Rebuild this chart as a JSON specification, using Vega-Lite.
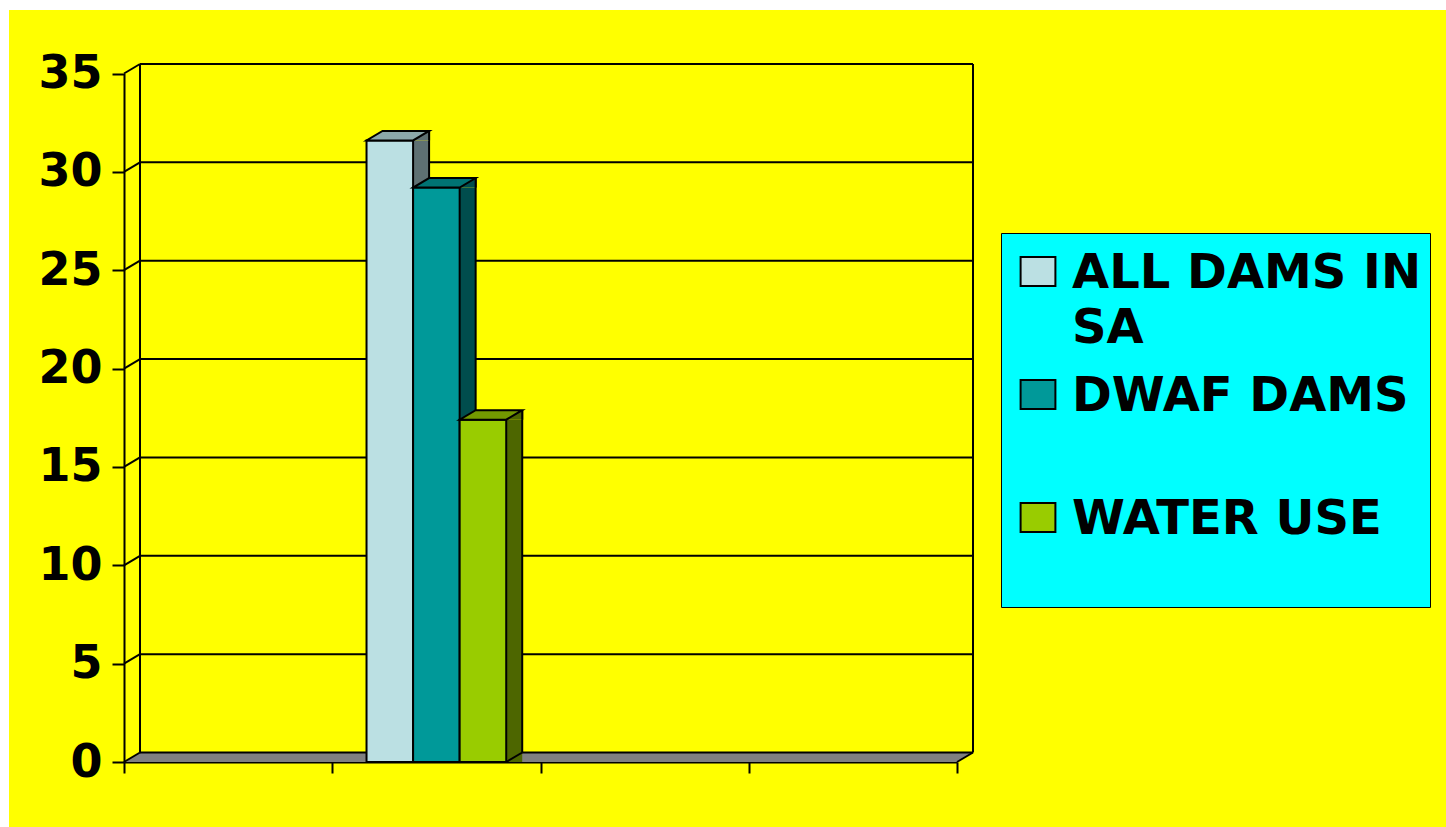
{
  "$schema": "https://vega.github.io/schema/vega-lite/v6.json",
  "width": 1437,
  "height": 817,
  "autosize": {"type": "none"},
  "padding": {"left": 9, "top": 10, "right": 0, "bottom": 0},
  "background": "white",
  "config": {
    "view": {"fill": "#FFFF00", "stroke": null},
    "font": "DejaVu Sans",
    "style": {"guide-label": {"lineHeight": 55}},
    "axis": {
      "domainColor": "black", "domainWidth": 2, "tickColor": "black", "tickWidth": 2,
      "grid": false, "labelFont": "DejaVu Sans", "labelFontWeight": "bold",
      "labelFontSize": 46, "labelColor": "black", "zindex": 1
    },
    "axisY": {"offset": -115, "tickSize": 12, "labelPadding": 10},
    "axisX": {"offset": -65, "tickSize": 11, "labels": false}
  },
  "datasets": {
    "bars": [
      {"group": "2", "series": "ALL DAMS IN SA", "value": 31.6},
      {"group": "2", "series": "DWAF DAMS", "value": 29.2},
      {"group": "2", "series": "WATER USE", "value": 17.4}
    ],
    "grid": [
      {"tick": 0}, {"tick": 5}, {"tick": 10}, {"tick": 15},
      {"tick": 20}, {"tick": 25}, {"tick": 30}, {"tick": 35}
    ]
  },
  "resolve": {"scale": {"x": "independent"}, "axis": {"x": "independent"}},
  "layer": [
    {
      "layer": [
        {
          "data": {"values": [{}]},
          "mark": {"type": "rect", "fill": "#808080", "xOffset": 16, "y2Offset": -9.5},
          "encoding": {
            "x": {"datum": 0, "type": "quantitative", "scale": {"domain": [0, 4], "range": [115, 948], "nice": false, "zero": false}, "axis": {"values": [0, 1, 2, 3, 4], "title": null}},
            "x2": {"datum": 4},
            "y": {"datum": 0, "type": "quantitative", "scale": {"domain": [0, 35], "range": [752, 63.5], "nice": false, "zero": false}, "axis": {"values": [0, 5, 10, 15, 20, 25, 30, 35], "title": null}},
            "y2": {"datum": 0}
          }
        },
        {
          "data": {"values": [{}]},
          "mark": {"type": "point", "shape": "M0,0 L16,-9.5 L16,0 Z", "size": 4, "filled": true, "fill": "#808080", "strokeWidth": 0, "opacity": 1},
          "encoding": {"x": {"datum": 0, "type": "quantitative"}, "y": {"datum": 0, "type": "quantitative"}}
        },
        {
          "data": {"values": [{}]},
          "mark": {"type": "point", "shape": "M0,0 L16,-9.5 L0,-9.5 Z", "size": 4, "filled": true, "fill": "#808080", "strokeWidth": 0, "opacity": 1},
          "encoding": {"x": {"datum": 4, "type": "quantitative"}, "y": {"datum": 0, "type": "quantitative"}}
        },
        {
          "data": {"name": "grid"},
          "mark": {"type": "rule", "color": "black", "strokeWidth": 2, "xOffset": 16, "x2Offset": 16, "yOffset": -9.5},
          "encoding": {"x": {"datum": 0, "type": "quantitative"}, "x2": {"datum": 4}, "y": {"field": "tick", "type": "quantitative"}}
        },
        {
          "data": {"name": "grid"},
          "mark": {"type": "point", "shape": "M0,0 L16,-9.5", "size": 4, "filled": false, "stroke": "black", "strokeWidth": 2, "opacity": 1},
          "encoding": {"x": {"datum": 0, "type": "quantitative"}, "y": {"field": "tick", "type": "quantitative"}}
        },
        {
          "data": {"values": [{}]},
          "mark": {"type": "rule", "color": "black", "strokeWidth": 2, "xOffset": 16, "yOffset": -9.5, "y2Offset": -9.5},
          "encoding": {"x": {"datum": 0, "type": "quantitative"}, "y": {"datum": 0, "type": "quantitative"}, "y2": {"datum": 35}}
        },
        {
          "data": {"values": [{}]},
          "mark": {"type": "rule", "color": "black", "strokeWidth": 2, "xOffset": 16, "yOffset": -9.5, "y2Offset": -9.5},
          "encoding": {"x": {"datum": 4, "type": "quantitative"}, "y": {"datum": 0, "type": "quantitative"}, "y2": {"datum": 35}}
        },
        {
          "data": {"values": [{}]},
          "mark": {"type": "point", "shape": "M0,0 L16,-9.5", "size": 4, "filled": false, "stroke": "black", "strokeWidth": 2, "opacity": 1},
          "encoding": {"x": {"datum": 4, "type": "quantitative"}, "y": {"datum": 0, "type": "quantitative"}}
        }
      ]
    },
    {
      "data": {"name": "bars"},
      "encoding": {
        "x": {"field": "group", "type": "nominal", "scale": {"domain": ["1", "2", "3", "4"], "range": [115, 948], "paddingInner": 0, "paddingOuter": 0}, "axis": null},
        "y": {"field": "value", "type": "quantitative", "title": null}
      },
      "resolve": {"scale": {"xOffset": "independent"}},
      "layer": [
        {
          "encoding": {
            "xOffset": {"field": "series", "type": "nominal", "scale": {"domain": ["ALL DAMS IN SA", "DWAF DAMS", "WATER USE"], "paddingInner": 0, "paddingOuter": 0.736, "range": [31.28, 239.53]}}
          },
          "layer": [
            {
              "mark": {"type": "bar", "width": 16, "y2Offset": -9.5, "opacity": 1},
              "encoding": {"fill": {"condition": [{"test": "datum.series === 'ALL DAMS IN SA'", "value": "#5E7072"}, {"test": "datum.series === 'DWAF DAMS'", "value": "#004D4D"}], "value": "#4D6600"}}
            }
          ]
        },
        {
          "encoding": {
            "xOffset": {"field": "series", "type": "nominal", "scale": {"domain": ["ALL DAMS IN SA", "DWAF DAMS", "WATER USE"], "paddingInner": 0, "paddingOuter": 0.736, "range": [39.28, 247.53]}}
          },
          "layer": [
            {
              "mark": {"type": "bar", "width": 2, "fill": "black", "yOffset": -9.5, "y2Offset": -9.5, "opacity": 1}
            }
          ]
        },
        {
          "encoding": {
            "xOffset": {"field": "series", "type": "nominal", "scale": {"domain": ["ALL DAMS IN SA", "DWAF DAMS", "WATER USE"], "paddingInner": 0, "paddingOuter": 0.736}}
          },
          "layer": [
            {
              "mark": {"type": "point", "shape": "M23.28,0 L39.28,-9.5 L39.28,0 Z", "size": 4, "filled": true, "strokeWidth": 0, "opacity": 1},
              "encoding": {"fill": {"condition": [{"test": "datum.series === 'ALL DAMS IN SA'", "value": "#5E7072"}, {"test": "datum.series === 'DWAF DAMS'", "value": "#004D4D"}], "value": "#4D6600"}}
            },
            {
              "mark": {"type": "point", "shape": "M23.28,-9.5 L39.28,-9.5 L23.28,0 Z", "size": 4, "filled": true, "strokeWidth": 0, "opacity": 1},
              "encoding": {"y": {"datum": 0, "type": "quantitative"}, "fill": {"condition": [{"test": "datum.series === 'ALL DAMS IN SA'", "value": "#5E7072"}, {"test": "datum.series === 'DWAF DAMS'", "value": "#004D4D"}], "value": "#4D6600"}}
            },
            {
              "mark": {"type": "point", "shape": "M39.28,-9.5 L39.28,0", "size": 4, "filled": false, "stroke": "black", "strokeWidth": 2, "opacity": 1}
            },
            {
              "mark": {"type": "point", "shape": "M23.28,0 L39.28,-9.5", "size": 4, "filled": false, "stroke": "black", "strokeWidth": 2, "opacity": 1},
              "encoding": {"y": {"datum": 0, "type": "quantitative"}}
            },
            {
              "mark": {"type": "bar", "stroke": "black", "strokeWidth": 2, "opacity": 1},
              "encoding": {
                "fill": {
                  "field": "series", "type": "nominal",
                  "scale": {"domain": ["ALL DAMS IN SA", "DWAF DAMS", "WATER USE"], "range": ["#BBE0E3", "#009999", "#99CC00"]},
                  "legend": {
                    "title": " ", "titleFontSize": 14, "titlePadding": 9, "titleColor": "#00FFFF",
                    "orient": "none", "legendX": 992, "legendY": 223,
                    "fillColor": "#00FFFF", "strokeColor": "black", "padding": 8,
                    "symbolType": "M-1.2,-2.14 H1.2 V-0.14 H-1.2 Z", "symbolSize": 841, "symbolOffset": 5,
                    "symbolStrokeColor": "black", "symbolStrokeWidth": 2, "symbolOpacity": 1,
                    "labelFont": "DejaVu Sans", "labelFontSize": 48, "labelFontWeight": "bold",
                    "labelColor": "black", "labelLimit": 1000, "labelOffset": 10,
                    "labelBaseline": "alphabetic", "rowPadding": 20,
                    "labelExpr": "datum.label === 'ALL DAMS IN SA' ? ['ALL DAMS IN', 'SA'] : [datum.label, '']"
                  }
                }
              }
            },
            {
              "mark": {"type": "point", "shape": "M-23.28,0 L23.28,0 L39.28,-9.5 L-7.28,-9.5 Z", "size": 4, "filled": true, "stroke": "black", "strokeWidth": 2, "opacity": 1},
              "encoding": {"fill": {"condition": [{"test": "datum.series === 'ALL DAMS IN SA'", "value": "#8CA8AA"}, {"test": "datum.series === 'DWAF DAMS'", "value": "#007373"}], "value": "#739900"}}
            }
          ]
        }
      ]
    }
  ]
}
